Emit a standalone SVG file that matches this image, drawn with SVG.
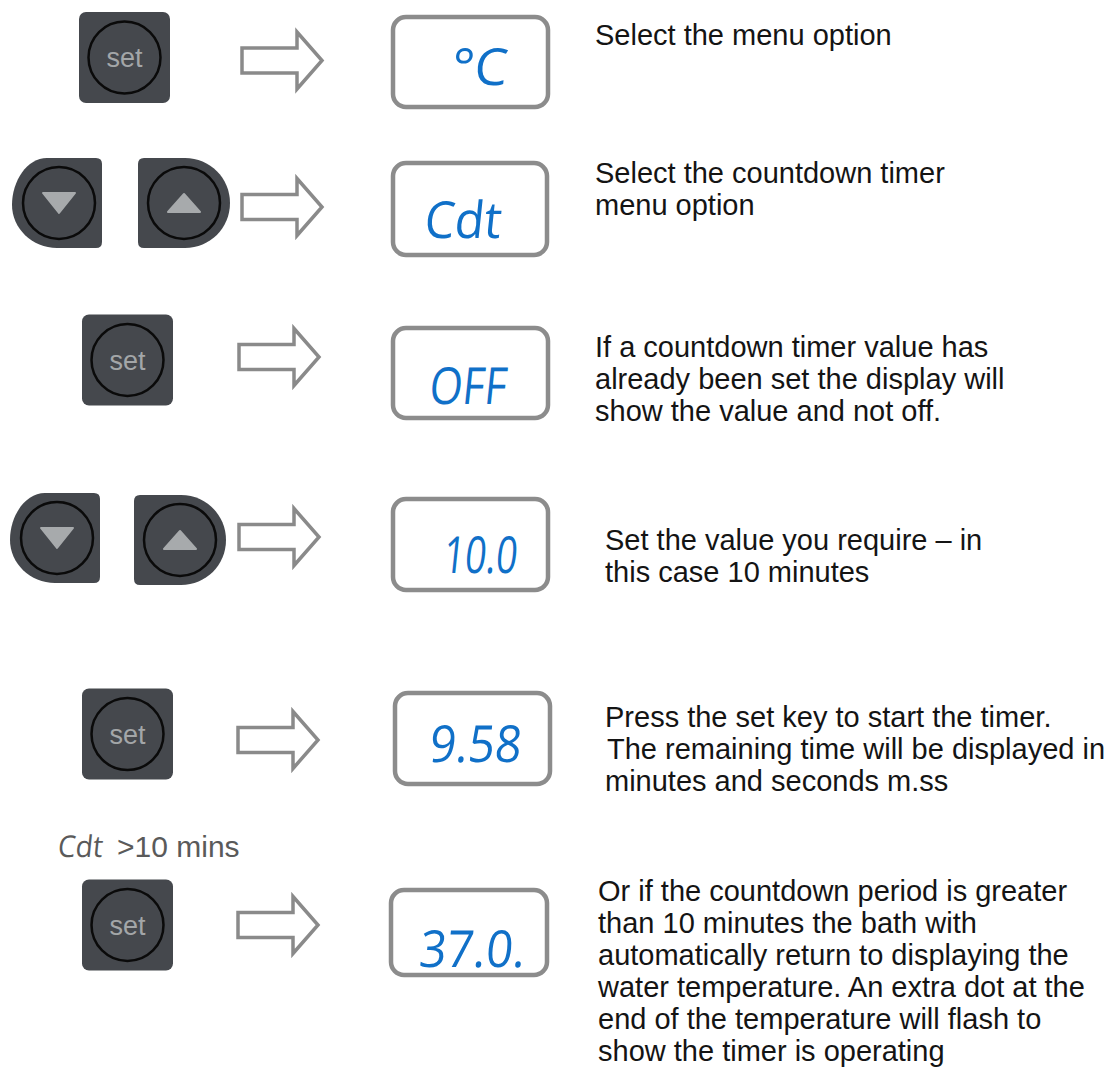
<svg xmlns="http://www.w3.org/2000/svg" width="1109" height="1073" viewBox="0 0 1109 1073">
<style>
.btn{fill:#45484d}
.ring{fill:none;stroke:#0a0a0a;stroke-width:2.5}
.tri{fill:#a7aaac}
.set{font-family:"Liberation Sans",Arial,sans-serif;font-size:27px;fill:#a3a6a8;text-anchor:middle}
.arrow{fill:#fff;stroke:#8a8a8a;stroke-width:3.5;stroke-linejoin:miter}
.disp{fill:#fff;stroke:#8c8c8c;stroke-width:4.5}
.seg{font-family:"Open Sans","DejaVu Sans",sans-serif;font-size:51px;fill:#1070c8}
.desc{font-family:"Liberation Sans",Arial,sans-serif;font-size:29px;fill:#141414}
.lbl{font-family:"Liberation Sans",Arial,sans-serif;font-size:30px;fill:#5a5a5a}
</style>
<defs>
<g id="setbtn">
<rect x="-45.5" y="-45.5" width="91" height="91" rx="7" class="btn"/>
<circle r="36" class="ring"/>
<text y="9.5" class="set">set</text>
</g>
<g id="downbtn">
<path d="M35,-45 H84 Q90,-45 90,-39 V39 Q90,45 84,45 H45 C20,45 0,25 0,2 C0,-22 15,-45 35,-45 Z" class="btn"/>
<circle cx="47" cy="0" r="36" class="ring"/>
<path d="M31,-10 H63 L47,10 Z" class="tri" stroke="#a7aaac" stroke-width="2" stroke-linejoin="round"/>
</g>
<g id="upbtn">
<path d="M6,-45 H47 C72,-45 92,-25 92,0 C92,25 72,45 47,45 H6 Q0,45 0,39 V-39 Q0,-45 6,-45 Z" class="btn"/>
<circle cx="46" cy="0" r="36" class="ring"/>
<path d="M30,9 H62 L46,-9 Z" class="tri" stroke="#a7aaac" stroke-width="2" stroke-linejoin="round"/>
</g>
<path id="arr" d="M0,-12.5 H55 V-28.5 L80,0 L55,28.5 V12.5 H0 Z"/>
</defs>

<g id="connectors">
<use href="#arr" class="arrow" transform="translate(242,60.5)"/>
<use href="#arr" class="arrow" transform="translate(242,207)"/>
<use href="#arr" class="arrow" transform="translate(239,357)"/>
<use href="#arr" class="arrow" transform="translate(239,537)"/>
<use href="#arr" class="arrow" transform="translate(238,740)"/>
<use href="#arr" class="arrow" transform="translate(238,925)"/>
</g>

<g id="row1-button"><use href="#setbtn" transform="translate(124.5,57.5)"/></g>
<g id="row2-buttons">
<use href="#downbtn" transform="translate(12,203)"/>
<use href="#upbtn" transform="translate(138,203)"/>
</g>
<g id="row3-button"><use href="#setbtn" transform="translate(127.5,360)"/></g>
<g id="row4-buttons">
<use href="#downbtn" transform="translate(10,538)"/>
<use href="#upbtn" transform="translate(134,540)"/>
</g>
<g id="row5-button"><use href="#setbtn" transform="translate(127.5,734)"/></g>
<g id="row6-button"><use href="#setbtn" transform="translate(127.5,925)"/></g>

<g id="display1">
<rect x="393" y="17" width="155" height="90" rx="13" class="disp"/>
<text class="seg" transform="translate(450,85) skewX(-6)" textLength="56" lengthAdjust="spacingAndGlyphs">°C</text>
</g>
<g id="display2">
<rect x="393" y="163" width="154" height="92" rx="13" class="disp"/>
<text class="seg" transform="translate(423,238) skewX(-6)" textLength="77" lengthAdjust="spacingAndGlyphs">Cdt</text>
</g>
<g id="display3">
<rect x="393" y="328" width="155" height="90" rx="13" class="disp"/>
<text class="seg" transform="translate(428,404) skewX(-6)" textLength="77" lengthAdjust="spacingAndGlyphs">OFF</text>
</g>
<g id="display4">
<rect x="393" y="499" width="155" height="91" rx="13" class="disp"/>
<text class="seg" transform="translate(442,573) skewX(-6)" textLength="74" lengthAdjust="spacingAndGlyphs">10.0</text>
</g>
<g id="display5">
<rect x="395" y="693" width="155" height="91" rx="13" class="disp"/>
<text class="seg" transform="translate(428,762) skewX(-6)" textLength="92" lengthAdjust="spacingAndGlyphs">9.58</text>
</g>
<g id="display6">
<rect x="391" y="890" width="156" height="85" rx="13" class="disp"/>
<text class="seg" transform="translate(418,967) skewX(-6)" textLength="106" lengthAdjust="spacingAndGlyphs">37.0.</text>
</g>

<g id="label-cdt">
<text class="seg" style="font-size:30px;fill:#5a5a5a" transform="translate(57,857) skewX(-6)" textLength="45" lengthAdjust="spacingAndGlyphs">Cdt</text>
<text class="lbl" x="117" y="857">&gt;10 mins</text>
</g>

<g id="desc1"><text class="desc" x="595" y="45">Select the menu option</text></g>
<g id="desc2">
<text class="desc" x="595" y="183">Select the countdown timer</text>
<text class="desc" x="595" y="215">menu option</text>
</g>
<g id="desc3">
<text class="desc" x="595" y="357">If a countdown timer value has</text>
<text class="desc" x="595" y="389">already been set the display will</text>
<text class="desc" x="595" y="421">show the value and not off.</text>
</g>
<g id="desc4">
<text class="desc" x="605" y="550">Set the value you require – in</text>
<text class="desc" x="605" y="582">this case 10 minutes</text>
</g>
<g id="desc5">
<text class="desc" x="605" y="727">Press the set key to start the timer.</text>
<text class="desc" x="607" y="759">The remaining time will be displayed in</text>
<text class="desc" x="605" y="791">minutes and seconds m.ss</text>
</g>
<g id="desc6">
<text class="desc" x="598" y="901">Or if the countdown period is greater</text>
<text class="desc" x="598" y="933">than 10 minutes the bath with</text>
<text class="desc" x="598" y="965">automatically return to displaying the</text>
<text class="desc" x="598" y="997">water temperature. An extra dot at the</text>
<text class="desc" x="598" y="1029">end of the temperature will flash to</text>
<text class="desc" x="598" y="1061">show the timer is operating</text>
</g>
</svg>
